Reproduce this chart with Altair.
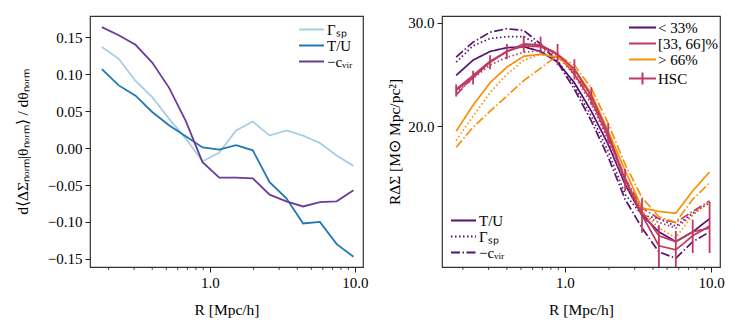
import altair as alt
import pandas as pd

FONT = "Liberation Serif"
H = 251

# ---------------- data ----------------
R = [0.18, 0.235, 0.307, 0.400, 0.522, 0.681, 0.889, 1.160,
     1.514, 1.976, 2.579, 3.365, 4.392, 5.732, 7.480, 9.762]

# left panel: d<dSigma_norm|theta_norm>/d theta_norm
left_names = ["Γₛₚ", "T/U", "−cᵥᵢᵣ"]
left_colors = ["#a6cee3", "#1f78b4", "#6a3d9a"]
gamma_sp = [0.137, 0.121, 0.091, 0.069, 0.040, 0.013, -0.018, -0.006,
            0.024, 0.036, 0.017, 0.024, 0.017, 0.007, -0.010, -0.024]
t_over_u = [0.107, 0.085, 0.071, 0.049, 0.031, 0.016, 0.001, -0.002,
            0.004, -0.003, -0.046, -0.068, -0.102, -0.100, -0.130, -0.147]
minus_cvir = [0.164, 0.153, 0.140, 0.116, 0.082, 0.037, -0.019, -0.040,
              -0.040, -0.041, -0.063, -0.072, -0.079, -0.073, -0.072, -0.057]

# right panel: R DeltaSigma
grp_names = ["< 33%", "[33, 66]%", "> 66%"]
grp_colors = ["#57106e", "#c03a62", "#f98e09"]
method_names = ["T/U", "Γₛₚ", "−cᵥᵢᵣ"]

lt33_tu = [24.4, 25.9, 26.8, 27.2, 27.3, 26.8, 25.7, 23.7, 21.2, 18.6, 15.9, 14.1, 13.2, 12.7, 13.2, 13.9]
lt33_gsp = [25.7, 27.4, 28.2, 28.4, 28.4, 27.4, 25.9, 23.4, 20.8, 18.1, 15.3, 14.1, 13.9, 13.5, 14.2, 14.8]
lt33_cvir = [26.2, 27.8, 28.9, 29.3, 29.1, 27.6, 25.7, 23.1, 20.4, 17.7, 15.0, 13.4, 12.2, 11.9, 12.7, 13.2]
mid_tu = [23.1, 24.4, 25.8, 26.8, 27.4, 27.3, 26.5, 24.5, 22.1, 19.1, 16.2, 14.3, 13.0, 12.7, 13.2, 13.4]
mid_gsp = [22.8, 24.1, 25.4, 26.2, 26.7, 26.9, 26.4, 24.4, 21.8, 18.9, 15.9, 14.1, 13.7, 13.4, 14.1, 14.9]
mid_cvir = [22.6, 24.2, 25.7, 26.8, 27.4, 27.4, 26.6, 24.7, 22.2, 19.4, 16.3, 14.5, 13.9, 13.7, 14.3, 14.9]
hi_tu = [19.6, 21.7, 23.7, 25.2, 26.3, 26.5, 26.2, 25.0, 22.7, 19.6, 16.8, 14.5, 14.3, 14.2, 15.5, 16.7]
hi_gsp = [18.9, 20.8, 22.8, 24.5, 25.9, 26.5, 26.2, 24.7, 22.4, 19.4, 16.3, 14.3, 13.4, 12.9, 14.1, 14.9]
hi_cvir = [18.4, 19.9, 21.2, 22.5, 23.9, 25.1, 26.4, 25.4, 23.2, 20.2, 17.2, 15.1, 14.0, 13.7, 15.0, 16.0]

hsc = [23.0, 24.2, 25.7, 26.8, 27.6, 27.5, 26.5, 25.0, 22.5, 19.4, 16.2, 14.1, 12.5, 12.3, 13.0, 13.5]
hsc_err = [0.55, 0.65, 0.7, 0.8, 0.9, 0.9, 1.1, 1.0, 0.8, 0.8, 0.7, 0.95, 1.05, 0.95, 0.85, 1.35]
hsc_color = "#c03a62"

minor_ticks = [0.2, 0.3, 0.4, 0.5, 0.6, 0.7, 0.8, 0.9, 2, 3, 4, 5, 6, 7, 8, 9]
x_major = [1, 10]
left_y_ticks = [-0.15, -0.10, -0.05, 0.0, 0.05, 0.10, 0.15]
right_y_ticks = [20, 30]

# ---------------- tables ----------------
left_df = pd.DataFrame({
    "R": R * 3,
    "val": gamma_sp + t_over_u + minus_cvir,
    "q": [left_names[0]] * 16 + [left_names[1]] * 16 + [left_names[2]] * 16,
})

series = [
    (grp_names[0], method_names[0], lt33_tu), (grp_names[0], method_names[1], lt33_gsp),
    (grp_names[0], method_names[2], lt33_cvir),
    (grp_names[1], method_names[0], mid_tu), (grp_names[1], method_names[1], mid_gsp),
    (grp_names[1], method_names[2], mid_cvir),
    (grp_names[2], method_names[0], hi_tu), (grp_names[2], method_names[1], hi_gsp),
    (grp_names[2], method_names[2], hi_cvir),
]
rows = []
for g, m, vals in series:
    for r, v in zip(R, vals):
        rows.append({"R": r, "val": v, "grp": g, "method": m, "key": g + m})
right_df = pd.DataFrame(rows)

hsc_df = pd.DataFrame({
    "R": R, "val": hsc,
    "lo": [v - e for v, e in zip(hsc, hsc_err)],
    "hi": [v + e for v, e in zip(hsc, hsc_err)],
})
leg_df = pd.DataFrame({"grp": grp_names + ["HSC"], "R": [None] * 4, "val": [None] * 4})
minor_df = pd.DataFrame({"R": minor_ticks})

LINE25 = "M-2.5,0L2.5,0"
LINE27 = "M-2.7,0L2.7,0"
LINE27_BAR = "M-2.7,0L2.7,0M0,-1.2L0,1.2"

# ---------------- left panel ----------------
xs_l = alt.Scale(type="log", domain=[0.149, 11.36], nice=False)
ys_l = alt.Scale(domain=[-0.161, 0.179], nice=False, zero=False)

x_axis = alt.Axis(values=x_major, format=".1f", title="R [Mpc/h]", titlePadding=12)
yl_axis = alt.Axis(values=left_y_ticks, format=".2f",
                   title="d⟨ΔΣₙₒᵣₘ|θₙₒᵣₘ⟩ / dθₙₒᵣₘ", titlePadding=17)

left_lines = alt.Chart(left_df).mark_line(strokeWidth=1.8, clip=True).encode(
    x=alt.X("R:Q", scale=xs_l, axis=x_axis),
    y=alt.Y("val:Q", scale=ys_l, axis=yl_axis),
    color=alt.Color("q:N", scale=alt.Scale(domain=left_names, range=left_colors),
                    legend=alt.Legend(orient="none", legendX=214, legendY=6, title=None,
                                      symbolType=LINE25, symbolSize=100,
                                      symbolStrokeWidth=2, labelOffset=8,
                                      rowPadding=0, padding=0)),
)
left_minor = alt.Chart(minor_df).mark_rule(color="#222", strokeWidth=0.8).encode(
    x=alt.X("R:Q", scale=xs_l, axis=x_axis),
    y=alt.value(H), y2=alt.value(H + 3),
)
left = alt.layer(left_lines, left_minor).properties(width=273, height=H)

# ---------------- right panel ----------------
xs_r = alt.Scale(type="log", domain=[0.144, 11.5], nice=False)
ys_r = alt.Scale(type="log", domain=[11.5, 30.8], nice=False, zero=False)
yr_axis = alt.Axis(values=right_y_ticks, format=".1f",
                   title="RΔΣ [M⊙ Mpc/pc²]", titlePadding=5)

right_lines = alt.Chart(right_df).mark_line(strokeWidth=1.7, clip=True).encode(
    x=alt.X("R:Q", scale=xs_r, axis=x_axis),
    y=alt.Y("val:Q", scale=ys_r, axis=yr_axis),
    stroke=alt.Stroke("grp:N", scale=alt.Scale(domain=grp_names, range=grp_colors), legend=None),
    strokeDash=alt.StrokeDash(
        "method:N",
        scale=alt.Scale(domain=method_names, range=[[1, 0], [1.5, 2.5], [9, 2.5, 1.5, 2.5]]),
        legend=alt.Legend(orient="none", legendX=14, legendY=197, title=None,
                          symbolType=LINE25, symbolSize=100, symbolStrokeWidth=2,
                          symbolStrokeColor=grp_colors[0], labelOffset=8,
                          rowPadding=0, padding=0)),
    detail="key:N",
)

hsc_line = alt.Chart(hsc_df).mark_line(strokeWidth=1.8, color=hsc_color, clip=True).encode(
    x=alt.X("R:Q", scale=xs_r, axis=x_axis),
    y=alt.Y("val:Q", scale=ys_r, axis=yr_axis),
)
hsc_bars = alt.Chart(hsc_df).mark_rule(strokeWidth=1.8, color=hsc_color, clip=True).encode(
    x=alt.X("R:Q", scale=xs_r, axis=x_axis),
    y=alt.Y("lo:Q", scale=ys_r, axis=yr_axis),
    y2="hi:Q",
)

leg1 = alt.Legend(orient="none", legendX=193, legendY=4, title=None,
                  symbolSize=100, symbolStrokeWidth=2, symbolOpacity=1, labelOffset=8,
                  rowPadding=0, padding=0)
leg_points = alt.Chart(leg_df).mark_point(filled=False, strokeWidth=2, opacity=1).encode(
    x=alt.X("R:Q", scale=xs_r, axis=x_axis),
    y=alt.Y("val:Q", scale=ys_r, axis=yr_axis),
    color=alt.Color("grp:N", scale=alt.Scale(domain=grp_names + ["HSC"],
                                             range=grp_colors + [hsc_color]), legend=leg1),
    shape=alt.Shape("grp:N", scale=alt.Scale(domain=grp_names + ["HSC"],
                                             range=[LINE27, LINE27, LINE27, LINE27_BAR]),
                    legend=leg1),
)
right_minor = alt.Chart(minor_df).mark_rule(color="#222", strokeWidth=0.8).encode(
    x=alt.X("R:Q", scale=xs_r, axis=x_axis),
    y=alt.value(H), y2=alt.value(H + 3),
)
right = alt.layer(right_lines, hsc_line, hsc_bars, right_minor, leg_points).properties(width=278, height=H)

chart = alt.hconcat(left, right, spacing=18).resolve_scale(
    color="independent", shape="independent", strokeDash="independent", stroke="independent"
).resolve_legend(
    color="independent", shape="independent", strokeDash="independent", stroke="independent"
).properties(
    padding={"left": 6, "top": 7, "right": 0, "bottom": 0}
).configure(font=FONT).configure_view(
    stroke="#333", strokeWidth=1.2
).configure_axis(
    labelFont=FONT, titleFont=FONT, labelFontSize=15, titleFontSize=15.5,
    titleFontWeight="normal", labelColor="black", titleColor="black",
    tickColor="#222", tickSize=5, labelPadding=3, domain=False, grid=False,
).configure_legend(
    labelFont=FONT, labelFontSize=15, labelColor="black",
)

chart.save("out.html", embed_options={"renderer": "svg", "actions": False})
